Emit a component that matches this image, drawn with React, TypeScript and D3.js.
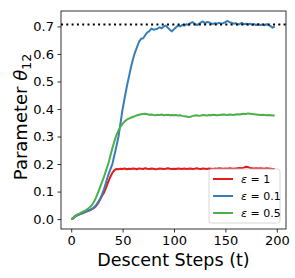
import { useRef, useEffect } from "react";
import * as d3 from "d3";

// sampled every 2 descent steps, t = 0 .. 198
const stepSize = 2;

const eps1 = [
  0.0, 0.003, 0.01, 0.014, 0.017, 0.02, 0.023, 0.026, 0.029, 0.032,
  0.036, 0.04, 0.047, 0.057, 0.07, 0.085, 0.097, 0.115, 0.135, 0.153,
  0.168, 0.178, 0.182, 0.181, 0.183, 0.182, 0.184, 0.181, 0.183, 0.182,
  0.184, 0.183, 0.181, 0.184, 0.183, 0.182, 0.185, 0.183, 0.182, 0.184,
  0.183, 0.181, 0.182, 0.184, 0.183, 0.182, 0.183, 0.185, 0.183, 0.182,
  0.183, 0.182, 0.184, 0.183, 0.182, 0.184, 0.182, 0.183, 0.184, 0.182,
  0.183, 0.185, 0.183, 0.182, 0.184, 0.183, 0.182, 0.184, 0.183, 0.182,
  0.184, 0.183, 0.185, 0.184, 0.183, 0.184, 0.183, 0.185, 0.184, 0.183,
  0.184, 0.185, 0.186, 0.185, 0.187, 0.190, 0.189, 0.186, 0.185, 0.184,
  0.185, 0.184, 0.185, 0.184, 0.183, 0.185, 0.184, 0.183, 0.182, 0.182,
];

const eps01 = [
  0.0, 0.003, 0.01, 0.014, 0.017, 0.02, 0.023, 0.026, 0.029, 0.033,
  0.037, 0.042, 0.05, 0.06, 0.073, 0.09, 0.11, 0.135, 0.16, 0.18,
  0.2, 0.232, 0.265, 0.3, 0.35, 0.4, 0.44, 0.48, 0.515, 0.55,
  0.58, 0.605, 0.625, 0.645, 0.655, 0.657, 0.668, 0.678, 0.683, 0.692,
  0.688, 0.69, 0.692, 0.697, 0.693, 0.7, 0.703, 0.695, 0.688, 0.682,
  0.69, 0.697, 0.703, 0.7, 0.705, 0.703, 0.708, 0.706, 0.712, 0.716,
  0.71, 0.705, 0.708, 0.714, 0.718, 0.712, 0.716, 0.715, 0.711, 0.709,
  0.712, 0.71, 0.713, 0.71, 0.712, 0.716, 0.72, 0.715, 0.713, 0.71,
  0.712, 0.707, 0.709, 0.713, 0.708, 0.71, 0.707, 0.71, 0.706, 0.708,
  0.705, 0.708, 0.705, 0.707, 0.704, 0.708, 0.705, 0.701, 0.695, 0.7,
];

const eps05 = [
  0.0, 0.004, 0.013, 0.017, 0.02, 0.024, 0.028, 0.032, 0.037, 0.043,
  0.05, 0.062, 0.077, 0.095, 0.115, 0.135, 0.155, 0.178, 0.2, 0.228,
  0.257, 0.283, 0.305, 0.322, 0.336, 0.347, 0.355, 0.361, 0.365, 0.368,
  0.371, 0.374, 0.377, 0.379, 0.381, 0.382, 0.383, 0.381, 0.379, 0.38,
  0.378, 0.377, 0.379, 0.378, 0.38, 0.377, 0.378, 0.379, 0.377, 0.378,
  0.377, 0.378, 0.376, 0.377, 0.375, 0.374, 0.373, 0.371, 0.372, 0.374,
  0.376, 0.377, 0.375, 0.376, 0.378, 0.377, 0.376, 0.378, 0.377, 0.379,
  0.378, 0.377, 0.378, 0.379, 0.38, 0.379, 0.378, 0.38, 0.379, 0.378,
  0.38, 0.381, 0.38, 0.382, 0.383, 0.382, 0.384, 0.383, 0.382, 0.381,
  0.38, 0.379, 0.378, 0.379, 0.378, 0.377, 0.378, 0.377, 0.376, 0.376,
];

const series = [
  { label: "1", color: "#e41a1c", values: eps1 },
  { label: "0.1", color: "#377eb8", values: eps01 },
  { label: "0.5", color: "#4daf4a", values: eps05 },
];

const target = 0.7071;
const xTicks = [0, 50, 100, 150, 200];
const yTicks = [0.0, 0.1, 0.2, 0.3, 0.4, 0.5, 0.6, 0.7];

function App() {
  const width = 295,
    height = 278,
    marginLeft = 61,
    marginRight = 9,
    marginTop = 11,
    marginBottom = 49;

  const gx = useRef(),
    gy = useRef();

  const x = d3
    .scaleLinear()
    .domain([-9.95, 208.95])
    .range([marginLeft, width - marginRight]);

  const y = d3
    .scaleLinear()
    .domain([-0.036, 0.756])
    .range([height - marginBottom, marginTop]);

  const line = d3
    .line()
    .x((d, i) => x(i * stepSize))
    .y((d) => y(d));

  useEffect(() => {
    void d3
      .select(gx.current)
      .call(d3.axisBottom(x).tickValues(xTicks).tickSize(3.5).tickPadding(3.5).tickFormat(d3.format("d")))
      .call((g) => g.select(".domain").remove())
      .call((g) => g.selectAll(".tick line").attr("stroke", "#000").attr("stroke-width", 0.8))
      .call((g) =>
        g.selectAll(".tick text").attr("font-size", 13).attr("font-family", "DejaVu Sans").attr("fill", "#000")
      );
  }, [gx, x]);

  useEffect(() => {
    void d3
      .select(gy.current)
      .call(d3.axisLeft(y).tickValues(yTicks).tickSize(3.5).tickPadding(3.5).tickFormat(d3.format(".1f")))
      .call((g) => g.select(".domain").remove())
      .call((g) => g.selectAll(".tick line").attr("stroke", "#000").attr("stroke-width", 0.8))
      .call((g) =>
        g.selectAll(".tick text").attr("font-size", 13).attr("font-family", "DejaVu Sans").attr("fill", "#000")
      );
  }, [gy, y]);

  const legendX = 209,
    legendY = 169;

  return (
    <svg
      width={width}
      height={height}
      style={{ position: "absolute", left: 0, top: 0, background: "#fff" }}
      fontFamily="DejaVu Sans"
    >
      <g>
        {series.map((s) => (
          <path
            key={s.label}
            d={line(s.values)}
            fill="none"
            stroke={s.color}
            strokeWidth={2}
            strokeLinejoin="round"
          />
        ))}
      </g>
      <line
        x1={marginLeft}
        x2={width - marginRight}
        y1={y(target)}
        y2={y(target)}
        stroke="#000"
        strokeWidth={2}
        strokeDasharray="2,3.3"
      />
      <rect
        x={marginLeft}
        y={marginTop}
        width={width - marginLeft - marginRight}
        height={height - marginTop - marginBottom}
        fill="none"
        stroke="#000"
        strokeWidth={0.8}
      />
      <g ref={gx} transform={`translate(0,${height - marginBottom})`} />
      <g ref={gy} transform={`translate(${marginLeft},0)`} />
      <g transform={`translate(${legendX},${legendY})`}>
        <rect x={0} y={0} width={71} height={54} rx={2.5} fill="#fff" fillOpacity={0.8} stroke="#ccc" strokeWidth={0.8} />
        {series.map((s, i) => (
          <g key={s.label} transform={`translate(0,${10 + i * 17})`}>
            <line x1={4} x2={24} y1={0} y2={0} stroke={s.color} strokeWidth={2} />
            <text x={32} y={0} dy="0.35em" fontSize={11} fill="#000">
              <tspan fontStyle="italic">ε</tspan>
              <tspan> = {s.label}</tspan>
            </text>
          </g>
        ))}
      </g>
      <text
        x={(marginLeft + width - marginRight) / 2}
        y={266}
        textAnchor="middle"
        fontSize={17.5}
        fill="#000"
      >
        Descent Steps (t)
      </text>
      <text
        transform={`translate(27,117) rotate(-90)`}
        textAnchor="middle"
        fontSize={18}
        fill="#000"
      >
        Parameter <tspan fontStyle="italic">θ</tspan>
        <tspan fontSize={12.5} dy={4}>12</tspan>
      </text>
    </svg>
  );
}

export default App;
